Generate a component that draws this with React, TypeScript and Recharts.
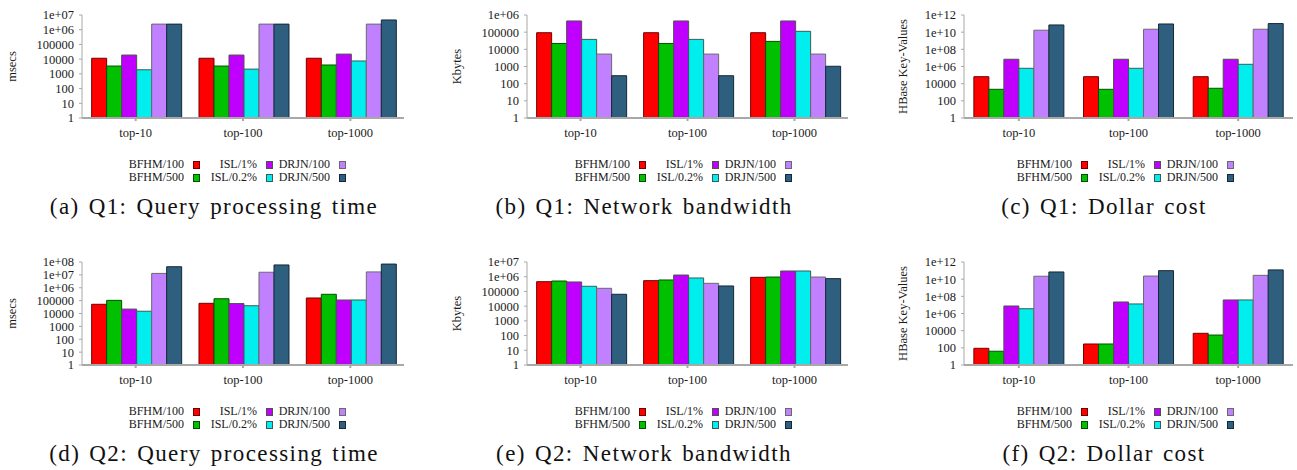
import { Bar, BarChart, Legend, XAxis, YAxis } from "recharts";

const categories = ["top-10", "top-100", "top-1000"];
const seriesNames = ["BFHM/100", "BFHM/500", "ISL/1%", "ISL/0.2%", "DRJN/100", "DRJN/500"];
const seriesColors = ["#ff0000", "#00c000", "#bf00ff", "#00eeee", "#c080ff", "#2f5f7f"];
const seriesStrokes = ["#700000", "#005000", "#505050", "#3a5a5a", "#6a6a6a", "#15283a"];

// rows = series (same order as seriesNames), columns = categories
const q1Time = [
  [11500, 11500, 11500],
  [3400, 3400, 4000],
  [19000, 19000, 22000],
  [1900, 2100, 7500],
  [2400000, 2400000, 2400000],
  [2400000, 2400000, 4600000],
];
const q1Net = [
  [93000, 93000, 93000],
  [22000, 22000, 29000],
  [450000, 450000, 450000],
  [38000, 38000, 112000],
  [5300, 5300, 5300],
  [290, 290, 1030],
];
const q1Cost = [
  [65000, 65000, 65000],
  [2200, 2200, 2900],
  [7e6, 7e6, 7e6],
  [620000, 620000, 1.8e6],
  [1.7e10, 2.2e10, 2.2e10],
  [6.9e10, 9e10, 1e11],
];
const q2Time = [
  [52000, 62000, 160000],
  [105000, 140000, 310000],
  [22000, 59000, 112000],
  [15000, 40000, 112000],
  [1.3e7, 1.6e7, 1.7e7],
  [4.3e7, 5.9e7, 6.9e7],
];
const q2Net = [
  [460000, 540000, 910000],
  [510000, 600000, 950000],
  [440000, 1.3e6, 2.45e6],
  [224000, 820000, 2.45e6],
  [163000, 355000, 950000],
  [64000, 235000, 740000],
];
const q2Cost = [
  [88, 280, 4900],
  [40, 280, 3100],
  [7.5e6, 2.2e7, 3.8e7],
  [3.6e6, 1.3e7, 3.8e7],
  [2.2e10, 2.3e10, 2.8e10],
  [6.9e10, 9.8e10, 1.2e11],
];

const ticks6 = [1, 10, 100, 1000, 10000, 100000, 1e6];
const ticks7 = [...ticks6, 1e7];
const ticks8 = [...ticks7, 1e8];
const ticksCost = [1, 100, 1e4, 1e6, 1e8, 1e10, 1e12];

const FONT = "'Liberation Serif', 'Times New Roman', serif";
const AXIS = "#a8a8a8";

function fmt(v: number) {
  if (v >= 1e6) {
    const e = Math.round(Math.log10(v));
    return `1e+${String(e).padStart(2, "0")}`;
  }
  return String(v);
}

function toRows(values: number[][]) {
  return categories.map((cat, ci) => {
    const row: Record<string, string | number> = { cat };
    seriesNames.forEach((_, si) => {
      row["s" + si] = values[si][ci];
    });
    return row;
  });
}

function LegendGrid(props: any) {
  const items = [...(props.payload || [])].sort(
    (a: any, b: any) => seriesNames.indexOf(a.value) - seriesNames.indexOf(b.value)
  );
  return (
    <div
      style={{
        display: "grid",
        gridTemplateRows: "13px 13px",
        gridAutoFlow: "column",
        gridAutoColumns: "73px",
        fontSize: 12,
        fontFamily: FONT,
        color: "#1a1a1a",
      }}
    >
      {items.map((it: any) => {
        const idx = seriesNames.indexOf(it.value);
        return (
          <div key={it.value} style={{ display: "flex", alignItems: "center", justifyContent: "flex-end", lineHeight: "13px" }}>
            <span style={{ whiteSpace: "nowrap" }}>{it.value}</span>
            <span
              style={{
                display: "inline-block",
                width: 5,
                height: 6,
                marginLeft: 9,
                background: it.color,
                border: `1px solid ${seriesStrokes[idx]}`,
              }}
            />
          </div>
        );
      })}
    </div>
  );
}

type PanelProps = {
  values: number[][];
  ticks: number[];
  yLabel: string;
  caption: string;
  plotLeft: number;
  plotRight: number;
  plotTop: number;
  labelDx: number;
  legendLeft: number;
  captionX: number;
};

function Panel(p: PanelProps) {
  const chartLeft = p.plotLeft - 80;
  const chartTop = p.plotTop - 10;
  const width = p.plotRight - p.plotLeft + 84;
  const height = 103 + 10 + 30;
  const rows = toRows(p.values);
  return (
    <>
      <div style={{ position: "absolute", left: chartLeft, top: chartTop }}>
        <BarChart
          width={width}
          height={height}
          data={rows}
          margin={{ top: 10, right: 4, bottom: 0, left: 0 }}
          barCategoryGap="9%"
          barGap={0}
        >
          <XAxis
            dataKey="cat"
            height={30}
            stroke={AXIS}
            strokeWidth={2}
            tickSize={3}
            tickMargin={7}
            tick={{ fill: "#1a1a1a", fontSize: 12.5, fontFamily: FONT }}
          />
          <YAxis
            scale="log"
            domain={[1, p.ticks[p.ticks.length - 1]]}
            ticks={p.ticks}
            interval={0}
            allowDataOverflow
            width={80}
            stroke={AXIS}
            tickSize={3}
            tickMargin={5}
            tickFormatter={fmt}
            tick={{ fill: "#1a1a1a", fontSize: 12.5, fontFamily: FONT }}
            label={{
              value: p.yLabel,
              angle: -90,
              position: "center",
              dx: p.labelDx,
              style: { fill: "#1a1a1a", fontSize: 12.5, fontFamily: FONT },
            }}
          />
          <Legend
            verticalAlign="middle"
            align="center"
            layout="horizontal"
            content={LegendGrid}
            wrapperStyle={{ top: p.plotTop + 143 - chartTop, left: p.legendLeft - chartLeft, width: 230, height: 26 }}
          />
          {seriesNames.map((name, i) => (
            <Bar
              key={name}
              dataKey={"s" + i}
              name={name}
              fill={seriesColors[i]}
              stroke={seriesStrokes[i]}
              strokeWidth={1}
              isAnimationActive={false}
            />
          ))}
        </BarChart>
      </div>
      <div
        style={{
          position: "absolute",
          left: p.captionX,
          top: p.plotTop + 178,
          transform: "translateX(-50%)",
          whiteSpace: "nowrap",
          fontFamily: FONT,
          fontSize: 23,
          lineHeight: "27px",
          letterSpacing: 1.4,
          wordSpacing: 2,
          color: "#111",
        }}
      >
        {p.caption}
      </div>
    </>
  );
}

export default function App() {
  return (
    <div style={{ position: "absolute", left: 0, top: 0, width: 1297, height: 470, background: "#fff", overflow: "hidden" }}>
      <Panel values={q1Time} ticks={ticks7} yLabel="msecs" caption="(a) Q1: Query processing time"
        plotLeft={82} plotRight={404} plotTop={15} labelDx={-30} legendLeft={127} captionX={214} />
      <Panel values={q1Net} ticks={ticks6} yLabel="Kbytes" caption="(b) Q1: Network bandwidth"
        plotLeft={527} plotRight={848} plotTop={15} labelDx={-30} legendLeft={573} captionX={644} />
      <Panel values={q1Cost} ticks={ticksCost} yLabel="HBase Key-Values" caption="(c) Q1: Dollar cost"
        plotLeft={964} plotRight={1293} plotTop={15} labelDx={-21} legendLeft={1015} captionX={1104} />
      <Panel values={q2Time} ticks={ticks8} yLabel="msecs" caption="(d) Q2: Query processing time"
        plotLeft={82} plotRight={404} plotTop={262} labelDx={-30} legendLeft={127} captionX={214} />
      <Panel values={q2Net} ticks={ticks7} yLabel="Kbytes" caption="(e) Q2: Network bandwidth"
        plotLeft={527} plotRight={848} plotTop={262} labelDx={-30} legendLeft={573} captionX={644} />
      <Panel values={q2Cost} ticks={ticksCost} yLabel="HBase Key-Values" caption="(f) Q2: Dollar cost"
        plotLeft={964} plotRight={1293} plotTop={262} labelDx={-21} legendLeft={1015} captionX={1104} />
    </div>
  );
}
